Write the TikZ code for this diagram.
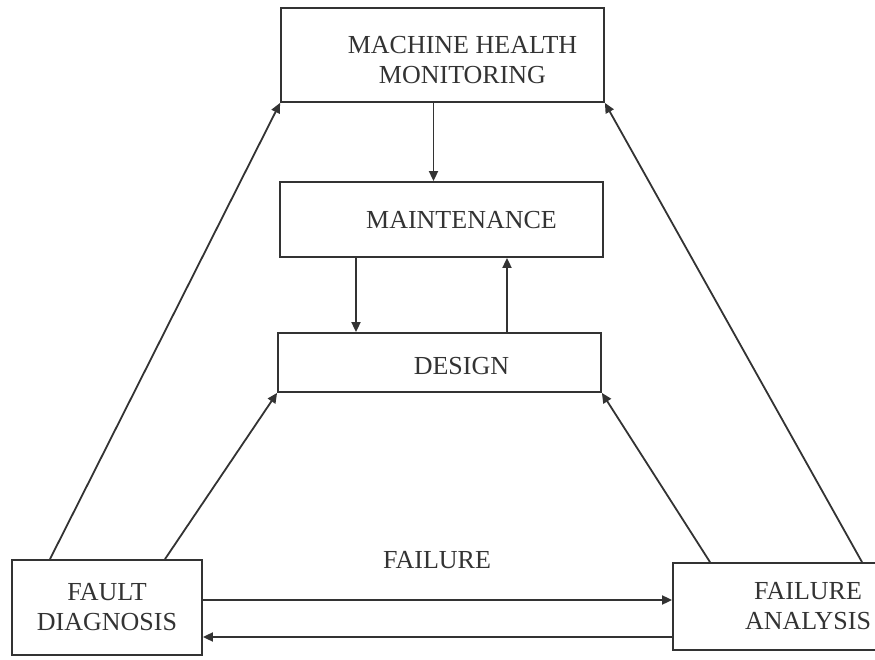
\documentclass[tikz,border=0pt]{standalone}
\usepackage{fontspec}
\setmainfont{Liberation Serif}
\usepackage{xcolor}
\usetikzlibrary{positioning, arrows.meta, calc}
\definecolor{InkGray}{HTML}{333333}
\tikzset{
  blockbox/.style={draw=InkGray, line width=1.8pt, inner sep=0pt},
  blocktext/.style={font=\fontsize{26}{30}\selectfont, text=InkGray, align=center},
  flowarrow/.style={draw=InkGray, line width=1.8pt, -{Triangle[length=10pt,width=9pt]}}
}

\begin{document}
\begin{tikzpicture}[x=1pt, y=1pt]
  \useasboundingbox (0,0) rectangle (875,659);
  \node[blockbox, minimum width=323pt, minimum height=94pt,
    label={[blocktext, name=mhmtext, xshift=20pt, yshift=-5pt]center:MACHINE HEALTH\\MONITORING}]
    (mhm) at (442.5,604) {};
  \node[blockbox, minimum width=323pt, minimum height=75pt,
    label={[blocktext, name=mainttext, xshift=20pt, yshift=-1pt]center:MAINTENANCE}]
    (maint) at (441.5,439.5) {};
  \node[blockbox, minimum width=323pt, minimum height=59pt,
    label={[blocktext, name=designtext, xshift=22pt, yshift=-4pt]center:DESIGN}]
    (design) at (439.5,296.5) {};
  \node[blockbox, minimum width=190pt, minimum height=95pt, blocktext]
    (fault) at (107,51.5) {FAULT\\DIAGNOSIS};
  \node[blockbox, minimum width=215pt, minimum height=87pt,
    label={[blocktext, name=analysistext, xshift=27.5pt]center:FAILURE\\ANALYSIS}]
    (analysis) at (780.5,52.5) {};
  \node[blocktext] (failure) at (437,98.5) {FAILURE};

  \draw[flowarrow] ([xshift=-9pt]mhm.south) -- ([xshift=-9pt]mhm.south |- maint.north);
  \draw[flowarrow] ([xshift=-85.5pt]maint.south) -- ([xshift=-85.5pt]maint.south |- design.north);
  \draw[flowarrow] ([xshift=65.5pt]maint.south |- design.north) -- ([xshift=65.5pt]maint.south);

  \draw[flowarrow] ([yshift=7.5pt]fault.east) -- ([yshift=7.5pt]fault.east -| analysis.west);
  \draw[flowarrow] ([yshift=-29.5pt]fault.east -| analysis.west) -- ([yshift=-29.5pt]fault.east);

  \draw[flowarrow] ([xshift=-57pt]fault.north) -- (mhm.south west);
  \draw[flowarrow] ([xshift=58pt]fault.north) -- (design.south west);
  \draw[flowarrow] ([xshift=-70.5pt]analysis.north) -- (design.south east);
  \draw[flowarrow] ([xshift=81.5pt]analysis.north) -- (mhm.south east);
\end{tikzpicture}
\end{document}
